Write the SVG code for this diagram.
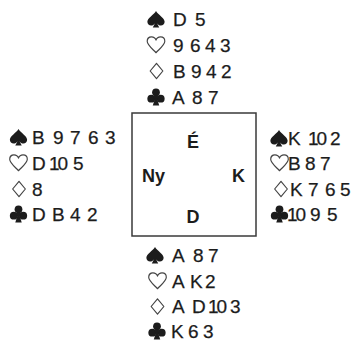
<svg xmlns="http://www.w3.org/2000/svg" width="364" height="342" viewBox="0 0 364 342">
<style>
.bg{fill:#ffffff}
.r{font-family:"Liberation Sans",Arial,sans-serif;font-size:19px;fill:#1c1c1c;stroke:#1c1c1c;stroke-width:0.25}
.ten{letter-spacing:-2px}
.blk{fill:#1c1c1c;stroke:none}
.wht{fill:none;stroke:#444;stroke-width:1.1;stroke-linejoin:round}
.box{fill:none;stroke:#3a3a3a;stroke-width:1.5}
.lbl{font-family:"Liberation Sans",Arial,sans-serif;font-size:18px;font-weight:bold;fill:#1c1c1c}
</style>
<defs>
<g id="spade"><path class="blk" transform="scale(1.08)" d="M0,-7.5 C-2,-4 -8,-1 -8,2.5 C-8,5.5 -5,7 -2.5,5.5 C-1.6,5 -1.1,4.4 -0.8,3.8 L-3,7.8 L3,7.8 L0.8,3.8 C1.1,4.4 1.6,5 2.5,5.5 C5,7 8,5.5 8,2.5 C8,-1 2,-4 0,-7.5 Z"/></g>
<g id="heart"><path class="wht" transform="scale(1.06)" d="M0,7.3 C-3,4 -8.3,0 -8.3,-3.5 C-8.3,-6.3 -6.3,-7.6 -4.3,-7.6 C-2.3,-7.6 -0.6,-6.3 0,-4.6 C0.6,-6.3 2.3,-7.6 4.3,-7.6 C6.3,-7.6 8.3,-6.3 8.3,-3.5 C8.3,0 3,4 0,7.3 Z"/></g>
<g id="diamond"><path class="wht" transform="scale(1.06)" d="M0,-7.3 L6,0 L0,7.3 L-6,0 Z"/></g>
<g id="club" class="blk" transform="scale(1.08)">
<circle cx="0" cy="-4.3" r="3.6"/>
<circle cx="-4.4" cy="1.6" r="3.6"/>
<circle cx="4.4" cy="1.6" r="3.6"/>
<circle cx="0" cy="0.5" r="2.2"/>
<path d="M-0.8,1 L-3,7.8 L3,7.8 L0.8,1 Z"/>
</g>
</defs>
<rect class="bg" x="0" y="0" width="364" height="342"/>

<g id="north">
<use href="#spade" x="156" y="19"/>
<use href="#heart" x="156" y="45"/>
<use href="#diamond" x="156.5" y="71"/>
<use href="#club" x="156" y="97"/>
<text class="r" y="26"><tspan x="173">D</tspan><tspan x="195">5</tspan></text>
<text class="r" y="52"><tspan x="173">9</tspan><tspan x="190">6</tspan><tspan x="205">4</tspan><tspan x="220">3</tspan></text>
<text class="r" y="78"><tspan x="173">B</tspan><tspan x="191">9</tspan><tspan x="206">4</tspan><tspan x="221">2</tspan></text>
<text class="r" y="104"><tspan x="172">A</tspan><tspan x="192">8</tspan><tspan x="208">7</tspan></text>
</g>

<g id="west">
<use href="#spade" x="18.5" y="137"/>
<use href="#heart" x="18.5" y="163"/>
<use href="#diamond" x="19" y="189"/>
<use href="#club" x="18.5" y="214"/>
<text class="r" y="144"><tspan x="32">B</tspan><tspan x="53">9</tspan><tspan x="70">7</tspan><tspan x="88">6</tspan><tspan x="105">3</tspan></text>
<text class="r" y="170"><tspan x="32">D</tspan><tspan x="49" class="ten">10</tspan><tspan x="73">5</tspan></text>
<text class="r" y="196"><tspan x="32">8</tspan></text>
<text class="r" y="221"><tspan x="32">D</tspan><tspan x="52">B</tspan><tspan x="70">4</tspan><tspan x="87">2</tspan></text>
</g>

<g id="east">
<use href="#spade" x="279" y="138"/>
<use href="#heart" x="279.5" y="163"/>
<use href="#diamond" x="281" y="189"/>
<use href="#club" x="279.5" y="214"/>
<text class="r" y="145"><tspan x="288">K</tspan><tspan x="308" class="ten">10</tspan><tspan x="330">2</tspan></text>
<text class="r" y="170"><tspan x="288">B</tspan><tspan x="305">8</tspan><tspan x="320">7</tspan></text>
<text class="r" y="196"><tspan x="290">K</tspan><tspan x="308">7</tspan><tspan x="325">6</tspan><tspan x="340">5</tspan></text>
<text class="r" y="221"><tspan x="287" class="ten">10</tspan><tspan x="310">9</tspan><tspan x="327">5</tspan></text>
</g>

<g id="south">
<use href="#spade" x="155" y="255"/>
<use href="#heart" x="157.5" y="281"/>
<use href="#diamond" x="157.5" y="306.5"/>
<use href="#club" x="157" y="331"/>
<text class="r" y="262"><tspan x="172">A</tspan><tspan x="193">8</tspan><tspan x="208">7</tspan></text>
<text class="r" y="288"><tspan x="172">A</tspan><tspan x="190">K</tspan><tspan x="205">2</tspan></text>
<text class="r" y="313"><tspan x="172">A</tspan><tspan x="192">D</tspan><tspan x="208" class="ten">10</tspan><tspan x="230">3</tspan></text>
<text class="r" y="338"><tspan x="171">K</tspan><tspan x="188">6</tspan><tspan x="203">3</tspan></text>
</g>

<g id="table">
<rect class="box" x="132" y="113" width="124" height="123"/>
<text class="lbl" x="193" y="148" text-anchor="middle">É</text>
<text class="lbl" x="142" y="182">Ny</text>
<text class="lbl" x="232" y="182">K</text>
<text class="lbl" x="193" y="223" text-anchor="middle">D</text>
</g>
</svg>
